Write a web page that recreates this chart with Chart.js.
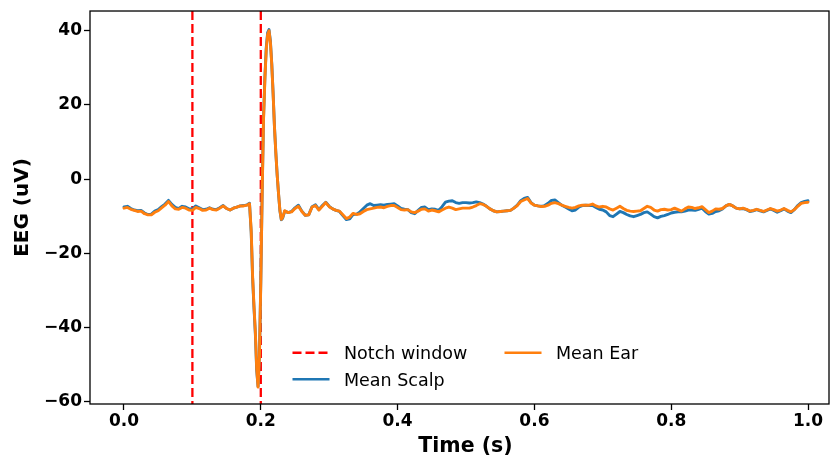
<!DOCTYPE html>
<html>
<head>
<meta charset="utf-8">
<script src="https://cdn.jsdelivr.net/npm/chart.js@4.4.1/dist/chart.umd.min.js"></script>
<style>
  html, body { margin: 0; padding: 0; background: #fff; }
  #wrap { width: 831px; height: 462px; }
</style>
</head>
<body>
<div id="wrap"><canvas id="chart" width="831" height="462"></canvas></div>
<script>
// time axis (s)
const times = [
  0.000, 0.005, 0.010, 0.015, 0.020, 0.025, 0.030, 0.035, 0.040, 0.045,
  0.050, 0.055, 0.060, 0.065, 0.070, 0.075, 0.080, 0.085, 0.090, 0.095,
  0.100, 0.105, 0.110, 0.115, 0.120, 0.125, 0.130, 0.135, 0.140, 0.145,
  0.150, 0.155, 0.160, 0.165, 0.170, 0.175, 0.180, 0.1835, 0.186, 0.188,
  0.190, 0.192, 0.194, 0.196, 0.198, 0.200, 0.202, 0.204, 0.206, 0.208,
  0.210, 0.212, 0.214, 0.216, 0.218, 0.220, 0.222, 0.224, 0.226, 0.228,
  0.230, 0.232, 0.235, 0.240, 0.245, 0.250, 0.255, 0.260, 0.265, 0.270,
  0.275, 0.280, 0.285, 0.290, 0.295, 0.300, 0.305, 0.310, 0.315, 0.320,
  0.325, 0.330, 0.335, 0.340, 0.345, 0.350, 0.355, 0.360, 0.365, 0.370,
  0.375, 0.380, 0.385, 0.390, 0.395, 0.400, 0.405, 0.410, 0.415, 0.420,
  0.425, 0.430, 0.435, 0.440, 0.445, 0.450, 0.455, 0.460, 0.465, 0.470,
  0.475, 0.480, 0.485, 0.490, 0.495, 0.500, 0.505, 0.510, 0.515, 0.520,
  0.525, 0.530, 0.535, 0.540, 0.545, 0.550, 0.555, 0.560, 0.565, 0.570,
  0.575, 0.580, 0.585, 0.590, 0.595, 0.600, 0.605, 0.610, 0.615, 0.620,
  0.625, 0.630, 0.635, 0.640, 0.645, 0.650, 0.655, 0.660, 0.665, 0.670,
  0.675, 0.680, 0.685, 0.690, 0.695, 0.700, 0.705, 0.710, 0.715, 0.720,
  0.725, 0.730, 0.735, 0.740, 0.745, 0.750, 0.755, 0.760, 0.765, 0.770,
  0.775, 0.780, 0.785, 0.790, 0.795, 0.800, 0.805, 0.810, 0.815, 0.820,
  0.825, 0.830, 0.835, 0.840, 0.845, 0.850, 0.855, 0.860, 0.865, 0.870,
  0.875, 0.880, 0.885, 0.890, 0.895, 0.900, 0.905, 0.910, 0.915, 0.920,
  0.925, 0.930, 0.935, 0.940, 0.945, 0.950, 0.955, 0.960, 0.965, 0.970,
  0.975, 0.980, 0.985, 0.990, 0.995, 1.000
];

// mean over scalp channels (uV)
const meanScalp = [
  -7.5, -7.3, -7.9, -8.3, -8.5, -8.4, -9.1, -9.5, -9.4, -8.6,
  -8.2, -7.4, -6.7, -5.7, -6.8, -7.6, -7.9, -7.3, -7.5, -8.0,
  -8.0, -7.2, -7.7, -8.2, -8.1, -7.7, -8.1, -8.2, -7.7, -7.1,
  -7.9, -8.3, -7.8, -7.5, -7.2, -7.1, -6.9, -6.5, -14.5, -26.5,
  -34.5, -41.5, -51.5, -55.8, -47.5, -27.5, -3.5, 16.5, 27.5, 35.5,
  39.5, 40.3, 37.3, 31.2, 23.2, 14.1, 7.1, 1.0, -4.1, -8.6,
  -10.9, -10.5, -8.6, -9.0, -8.7, -7.7, -7.0, -8.6, -9.7, -9.6,
  -7.4, -6.9, -8.2, -7.1, -6.2, -7.3, -8.0, -8.4, -8.7, -9.8,
  -10.9, -10.7, -9.5, -9.4, -8.8, -7.9, -7.0, -6.6, -7.1, -7.0,
  -6.9, -7.0, -6.8, -6.7, -6.6, -7.2, -7.9, -8.1, -8.2, -9.0,
  -9.3, -8.4, -7.6, -7.5, -8.2, -8.0, -8.1, -8.4, -7.4, -6.2,
  -5.9, -5.8, -6.3, -6.5, -6.3, -6.3, -6.4, -6.3, -6.1, -6.3,
  -6.7, -7.3, -8.0, -8.5, -8.8, -8.7, -8.6, -8.5, -8.4, -7.8,
  -7.0, -5.8, -5.2, -4.9, -6.3, -7.0, -7.2, -7.3, -7.1, -6.5,
  -5.7, -5.6, -6.3, -7.0, -7.5, -8.0, -8.5, -8.3, -7.5, -7.1,
  -7.0, -7.1, -7.1, -7.6, -8.1, -8.3, -8.8, -9.8, -10.1, -9.4,
  -8.7, -9.0, -9.5, -9.9, -10.1, -9.8, -9.5, -9.0, -8.8, -9.4,
  -10.1, -10.4, -10.0, -9.8, -9.5, -9.1, -8.9, -8.8, -8.8, -8.6,
  -8.3, -8.3, -8.4, -8.1, -7.8, -8.7, -9.4, -9.2, -8.7, -8.5,
  -8.0, -7.2, -6.8, -7.2, -7.8, -8.0, -7.9, -8.2, -8.7, -8.5,
  -8.2, -8.5, -8.8, -8.4, -8.0, -8.4, -8.9, -8.5, -8.0, -8.6,
  -9.0, -8.2, -7.1, -6.3, -6.0, -5.8
];

// mean over ear channels (uV)
const meanEar = [
  -7.8, -7.6, -8.1, -8.4, -8.7, -8.6, -9.3, -9.6, -9.6, -8.9,
  -8.5, -7.7, -7.0, -6.0, -7.2, -8.0, -8.1, -7.6, -7.8, -8.3,
  -8.4, -7.6, -7.9, -8.4, -8.3, -7.8, -8.2, -8.3, -7.8, -7.2,
  -7.9, -8.3, -7.8, -7.5, -7.2, -7.2, -7.0, -6.6, -14.0, -26.0,
  -34.0, -41.0, -51.0, -56.0, -48.0, -28.0, -4.0, 16.0, 27.0, 35.0,
  39.0, 40.0, 37.0, 31.0, 23.0, 14.0, 7.0, 1.0, -4.0, -8.5,
  -10.8, -10.3, -8.5, -9.0, -8.8, -7.9, -7.3, -8.7, -9.7, -9.6,
  -7.5, -7.1, -8.3, -7.3, -6.3, -7.4, -8.0, -8.4, -8.6, -9.6,
  -10.6, -10.2, -9.2, -9.5, -9.3, -8.7, -8.2, -8.0, -7.8, -7.6,
  -7.5, -7.7, -7.3, -7.1, -7.1, -7.6, -8.2, -8.3, -8.2, -8.8,
  -9.0, -8.6, -8.1, -8.0, -8.6, -8.3, -8.5, -8.8, -8.3, -7.8,
  -7.5, -7.8, -8.2, -8.0, -7.8, -7.8, -7.8, -7.5, -7.1, -6.6,
  -6.8, -7.3, -8.0, -8.5, -8.8, -8.7, -8.6, -8.5, -8.4, -7.8,
  -7.1, -6.0, -5.6, -5.2, -6.4, -7.0, -7.2, -7.4, -7.3, -7.0,
  -6.5, -6.3, -6.6, -7.0, -7.3, -7.6, -7.8, -7.6, -7.2, -7.0,
  -7.0, -7.0, -6.7, -7.2, -7.5, -7.3, -7.5, -8.0, -8.3, -7.8,
  -7.3, -7.9, -8.4, -8.6, -8.7, -8.6, -8.5, -7.9, -7.3, -7.6,
  -8.3, -8.6, -8.2, -8.1, -8.3, -8.2, -7.8, -8.2, -8.6, -8.0,
  -7.5, -7.6, -7.9, -7.7, -7.4, -8.2, -9.0, -8.6, -8.0, -8.1,
  -7.9, -7.2, -6.8, -7.2, -7.8, -8.0, -7.8, -8.1, -8.6, -8.4,
  -8.1, -8.4, -8.7, -8.3, -7.9, -8.2, -8.6, -8.3, -7.9, -8.4,
  -8.8, -8.2, -7.3, -6.5, -6.3, -6.2
];

const notchWindow = [0.1, 0.2];
const xTicks = [0.0, 0.2, 0.4, 0.6, 0.8, 1.0];
const yTicks = [-60, -40, -20, 0, 20, 40];

const FONT = "'DejaVu Sans', sans-serif";
const toPoints = vals => times.map((t, i) => ({ x: t, y: vals[i] }));

// dashed vertical lines for the notch window, drawn under the traces
const notchPlugin = {
  id: 'notch',
  beforeDatasetsDraw(chart) {
    const { ctx, chartArea, scales } = chart;
    ctx.save();
    ctx.strokeStyle = '#ff0000';
    ctx.lineWidth = 2.3;
    ctx.setLineDash([9, 4]);
    notchWindow.forEach(t => {
      const px = scales.x.getPixelForValue(t);
      ctx.beginPath();
      ctx.moveTo(px, chartArea.top);
      ctx.lineTo(px, chartArea.bottom);
      ctx.stroke();
    });
    ctx.restore();
  },
};

// matplotlib-style box, x label, and the two-column legend in the lower middle
const framePlugin = {
  id: 'frame',
  afterDraw(chart) {
    const { ctx, chartArea } = chart;
    ctx.save();
    ctx.strokeStyle = '#000';
    ctx.lineWidth = 1.3;
    ctx.strokeRect(chartArea.left, chartArea.top,
      chartArea.right - chartArea.left, chartArea.bottom - chartArea.top);

    // x label sits a little right of the visible box centre, as in the original
    ctx.fillStyle = '#000';
    ctx.font = 'bold 20.5px ' + FONT;
    ctx.textAlign = 'center';
    ctx.textBaseline = 'middle';
    ctx.fillText('Time (s)', 465.5, 447);

    const items = [
      { label: 'Notch window', color: '#ff0000', dash: [9, 4], x: 292.5, y: 352.7 },
      { label: 'Mean Scalp', color: '#1f77b4', dash: [], x: 292.5, y: 379.3 },
      { label: 'Mean Ear', color: '#ff7f0e', dash: [], x: 504.5, y: 352.7 },
    ];
    ctx.font = '17.5px ' + FONT;
    ctx.textBaseline = 'alphabetic';
    ctx.textAlign = 'left';
    items.forEach(it => {
      ctx.strokeStyle = it.color;
      ctx.lineWidth = 2.6;
      ctx.setLineDash(it.dash);
      ctx.beginPath();
      ctx.moveTo(it.x, it.y);
      ctx.lineTo(it.x + 37, it.y);
      ctx.stroke();
      ctx.fillText(it.label, it.x + 51.5, it.y + 6.5);
    });
    ctx.restore();
  },
};

const traceStyle = {
  borderWidth: 2.9,
  pointRadius: 0,
  tension: 0,
  borderJoinStyle: 'round',
  borderCapStyle: 'round',
};

new Chart(document.getElementById('chart'), {
  type: 'line',
  data: {
    datasets: [
      { label: 'Mean Scalp', data: toPoints(meanScalp), borderColor: '#1f77b4', order: 1, ...traceStyle },
      { label: 'Mean Ear', data: toPoints(meanEar), borderColor: '#ff7f0e', order: 0, ...traceStyle },
    ],
  },
  options: {
    responsive: false,
    animation: false,
    layout: { padding: { left: 0, right: 2, top: 0, bottom: 0 } },
    plugins: {
      legend: { display: false },
      tooltip: { enabled: false },
    },
    scales: {
      x: {
        type: 'linear',
        min: -0.0497,
        max: 1.0307,
        afterFit: s => { s.height = 58; },
        afterBuildTicks: s => { s.ticks = xTicks.map(v => ({ value: v })); },
        border: { display: false },
        grid: { drawOnChartArea: false, drawTicks: true, tickLength: 6, tickWidth: 1.3, tickColor: '#000' },
        ticks: {
          padding: 1,
          color: '#000',
          font: { family: FONT, size: 17, weight: 'bold' },
          callback: v => v.toFixed(1),
        },
      },
      y: {
        min: -60.55,
        max: 45.3,
        afterFit: s => { s.width = 90; },
        afterBuildTicks: s => { s.ticks = yTicks.map(v => ({ value: v })); },
        border: { display: false },
        grid: { drawOnChartArea: false, drawTicks: true, tickLength: 6, tickWidth: 1.3, tickColor: '#000' },
        ticks: {
          padding: 2,
          color: '#000',
          font: { family: FONT, size: 17, weight: 'bold', lineHeight: 1.06 },
          callback: v => (v < 0 ? '\u2212' + Math.abs(v) : String(v)),
        },
        title: {
          display: true,
          text: 'EEG (uV)',
          color: '#000',
          font: { family: FONT, size: 20, weight: 'bold', lineHeight: 1.2 },
          padding: { top: 11, bottom: 0 },
        },
      },
    },
  },
  plugins: [notchPlugin, framePlugin],
});
</script>
</body>
</html>
